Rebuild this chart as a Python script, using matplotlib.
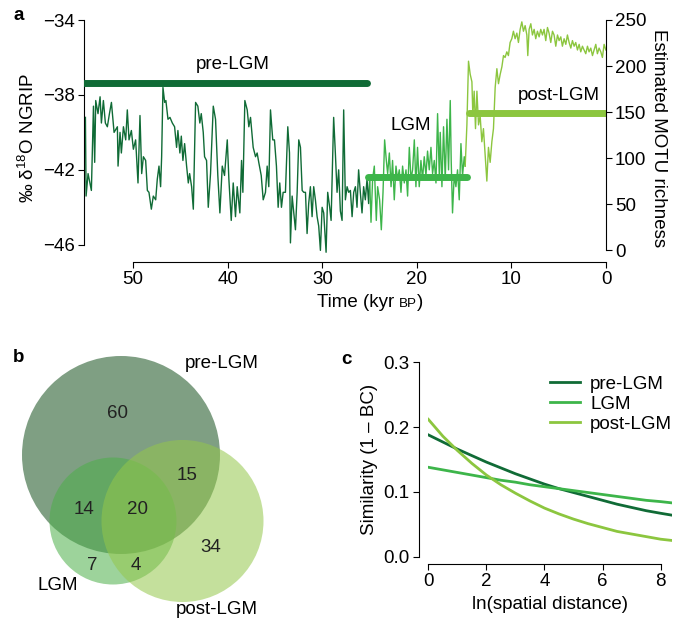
'''NGRIP oxygen isotope record, MOTU overlap and distance decay'''
import numpy as np
import matplotlib.pyplot as plt
from matplotlib.patches import Circle

plt.rcParams['font.family'] = ['Liberation Sans', 'DejaVu Sans']
plt.rcParams['mathtext.default'] = 'regular'
plt.rcParams['font.size'] = 13.5
plt.rcParams['axes.linewidth'] = 0.8

# Colours for the three periods.
cPre = '#106b36'
cLgm = '#3db54a'
cPost = '#8cc63f'

# 1. NGRIP d18O record (kyr BP, per mil), split by period.
preKyr = [55.05, 54.98, 54.77, 54.42, 54.20, 54.07, 53.96, 53.72, 53.50, 53.36,
          53.15, 52.94, 52.73, 52.51, 52.30, 52.02, 51.67, 51.60, 51.39, 51.25,
          51.03, 50.79, 50.62, 50.44, 50.19, 49.98, 49.74, 49.49, 49.28, 49.10,
          48.92, 48.68, 48.50, 48.33, 48.08, 47.87, 47.62, 47.45, 47.27, 47.10,
          46.99, 46.85, 46.67, 46.54, 46.32, 46.11, 45.86, 45.62, 45.41, 45.27,
          45.06, 44.91, 44.74, 44.56, 44.35, 44.17, 44.03, 43.82, 43.64, 43.40,
          43.16, 42.95, 42.80, 42.59, 42.45, 42.24, 42.06, 41.82, 41.53, 41.29,
          41.05, 40.83, 40.58, 40.34, 40.05, 39.88, 39.63, 39.42, 39.18, 39.00,
          38.72, 38.54, 38.40, 38.19, 37.94, 37.77, 37.59, 37.31, 37.06, 36.89,
          36.72, 36.46, 36.25, 36.01, 35.83, 35.66, 35.48, 35.24, 35.06, 34.85,
          34.67, 34.50, 34.32, 34.14, 33.90, 33.65, 33.47, 33.37, 33.19, 33.02,
          32.84, 32.66, 32.49, 32.31, 32.13, 31.96, 31.78, 31.61, 31.44, 31.26,
          31.08, 30.91, 30.73, 30.55, 30.38, 30.20, 30.02, 29.85, 29.60, 29.43,
          29.22, 29.07, 28.80, 28.62, 28.44, 28.27, 28.09, 27.91, 27.74, 27.56,
          27.38, 27.21, 27.03, 26.85, 26.68, 26.50, 26.33, 26.16, 25.98, 25.80,
          25.63, 25.45, 25.27, 25.10, 24.99]
preD18o = [-39.2, -43.4, -42.2, -43.1, -38.6, -41.6, -38.3, -39.0, -38.1, -39.5,
           -38.3, -39.5, -39.7, -39.0, -38.4, -40.0, -39.7, -41.8, -40.0, -41.1,
           -39.7, -40.4, -38.8, -40.4, -39.9, -40.9, -40.4, -42.7, -39.1, -42.2,
           -41.3, -41.5, -43.1, -43.2, -44.1, -43.4, -43.6, -42.5, -41.8, -42.9,
           -41.3, -37.6, -38.4, -38.3, -39.3, -39.2, -39.5, -39.7, -40.8, -39.9,
           -41.1, -40.2, -41.5, -40.6, -41.8, -42.7, -42.2, -42.9, -44.1, -38.4,
           -38.6, -39.5, -39.0, -40.0, -41.3, -41.5, -44.0, -42.2, -38.6, -39.3,
           -42.3, -44.3, -41.8, -42.3, -40.4, -42.5, -44.7, -42.7, -44.5, -42.9,
           -44.3, -41.5, -43.2, -38.3, -38.8, -39.7, -39.2, -40.8, -41.3, -41.1,
           -41.6, -42.3, -43.6, -43.2, -41.8, -42.9, -38.8, -40.4, -40.4, -41.8,
           -44.0, -42.7, -44.0, -43.2, -43.2, -39.7, -41.1, -45.9, -43.4, -44.3,
           -45.2, -43.2, -40.4, -40.8, -43.1, -43.2, -43.2, -45.4, -43.8, -42.9,
           -44.5, -42.9, -43.6, -44.5, -45.0, -46.3, -44.0, -44.3, -46.4, -43.2,
           -44.0, -44.7, -39.2, -41.1, -43.2, -42.0, -44.2, -44.7, -38.8, -43.6,
           -42.9, -43.2, -43.1, -44.5, -43.2, -42.9, -44.0, -42.0, -43.2, -44.3,
           -42.9, -43.6, -42.5, -43.8, -42.5]

lgmKyr = [24.85, 24.68, 24.50, 24.29, 24.15, 23.94, 23.76, 23.58, 23.41, 23.23,
          23.09, 22.91, 22.73, 22.57, 22.39, 22.21, 22.04, 21.86, 21.68, 21.51,
          21.33, 21.15, 20.98, 20.80, 20.62, 20.45, 20.27, 20.10, 19.93, 19.75,
          19.57, 19.40, 19.22, 19.04, 18.87, 18.69, 18.51, 18.34, 18.16, 17.98,
          17.81, 17.63, 17.53, 17.35, 17.18, 17.00, 16.82, 16.65, 16.47, 16.37,
          16.23, 16.05, 15.87, 15.70, 15.52, 15.34, 15.17, 14.99, 14.89]
lgmD18o = [-44.8, -42.5, -41.8, -44.7, -42.9, -43.6, -45.2, -43.2, -40.4, -41.5,
           -42.2, -41.1, -42.9, -41.5, -43.6, -41.8, -42.5, -42.0, -43.2, -41.8,
           -42.7, -42.0, -43.4, -40.8, -42.5, -42.0, -40.4, -42.9, -40.8, -42.9,
           -41.5, -42.5, -41.3, -42.3, -41.0, -42.0, -40.8, -42.2, -41.5, -42.7,
           -39.0, -42.3, -40.0, -42.9, -39.7, -42.5, -39.3, -42.0, -38.3, -41.5,
           -44.3, -42.3, -42.9, -42.0, -43.6, -40.6, -42.3, -41.3, -41.8]

postKyr = [14.71, 14.54, 14.36, 14.18, 14.08, 13.94, 13.80, 13.65, 13.48, 13.31,
           13.13, 12.96, 12.78, 12.60, 12.43, 12.25, 12.07, 11.90, 11.72, 11.54,
           11.37, 11.19, 11.01, 10.84, 10.67, 10.49, 10.32, 10.14, 9.96, 9.79,
           9.61, 9.43, 9.26, 9.08, 8.90, 8.73, 8.55, 8.37, 8.27, 8.13,
           7.95, 7.78, 7.60, 7.43, 7.25, 7.07, 6.90, 6.72, 6.55, 6.37,
           6.19, 6.02, 5.84, 5.66, 5.49, 5.31, 5.13, 4.96, 4.78, 4.61,
           4.43, 4.25, 4.08, 3.90, 3.72, 3.55, 3.37, 3.20, 3.02, 2.84,
           2.67, 2.49, 2.32, 2.14, 1.96, 1.79, 1.61, 1.43, 1.26, 1.08,
           0.91, 0.73, 0.55, 0.38, 0.20, 0.02]
postD18o = [-39.6, -36.2, -36.9, -37.3, -39.1, -37.8, -39.8, -37.8, -39.6, -39.1,
            -40.5, -39.8, -41.2, -42.6, -40.8, -41.6, -40.5, -39.8, -37.6, -36.6,
            -37.4, -36.9, -36.5, -35.9, -36.0, -35.7, -35.9, -35.2, -35.0, -34.6,
            -35.0, -34.7, -35.2, -34.5, -34.1, -34.6, -34.3, -34.8, -35.9, -34.5,
            -34.2, -34.8, -34.5, -35.0, -34.6, -34.9, -34.5, -34.8, -34.5, -35.1,
            -34.4, -34.7, -35.2, -34.6, -34.8, -35.4, -34.8, -35.1, -34.9, -35.4,
            -35.0, -35.3, -34.8, -35.2, -35.5, -35.1, -35.4, -35.2, -35.6, -35.3,
            -35.7, -35.4, -35.6, -35.8, -35.4, -35.7, -35.5, -35.9, -35.6, -35.3,
            -35.8, -35.5, -35.7, -36.0, -35.3, -35.6]

# Estimated MOTU richness per period (start kyr, end kyr, richness).
periodNames = ['pre-LGM', 'LGM', 'post-LGM']
periodStart = [55.2, 25.2, 14.5]
periodEnd = [25.3, 14.7, 0.0]
periodRichness = [182, 79, 149]

# 2. Venn counts of shared MOTUs.
vennCounts = [60, 15, 14, 20, 34, 7, 4]

# 3. Distance decay of similarity (1 - BC).
decayX = [0, 0.5, 1, 1.5, 2, 2.5, 3, 3.5, 4, 4.5, 5, 5.5, 6, 6.5, 7, 7.5, 8, 8.4]
decayPre = [0.188, 0.177, 0.166, 0.156, 0.146, 0.137, 0.128, 0.120, 0.112,
            0.105, 0.099, 0.093, 0.087, 0.081, 0.076, 0.071, 0.067, 0.064]
decayLgm = [0.138, 0.134, 0.130, 0.126, 0.122, 0.118, 0.115, 0.111, 0.108,
            0.105, 0.102, 0.099, 0.096, 0.093, 0.090, 0.087, 0.085, 0.083]
decayPost = [0.212, 0.186, 0.164, 0.144, 0.126, 0.111, 0.098, 0.086, 0.075,
             0.066, 0.058, 0.051, 0.045, 0.039, 0.035, 0.031, 0.027, 0.025]

W, H = 690, 619
fig = plt.figure(figsize=(W / 100, H / 100), dpi=100)


def fbox(x0, y0, x1, y1):
    # pixel box (top-left origin) -> figure fraction rect
    return [x0 / W, 1 - y1 / H, (x1 - x0) / W, (y1 - y0) / H]


# ---- panel a ----
ax = fig.add_axes(fbox(84, 20, 606, 256))
ax.plot(preKyr, preD18o, color=cPre, lw=1.0)
ax.plot([preKyr[-1]] + lgmKyr, [preD18o[-1]] + lgmD18o, color=cLgm, lw=1.0)
ax.plot([lgmKyr[-1]] + postKyr, [lgmD18o[-1]] + postD18o, color=cPost, lw=1.0)
ax.set_xlim(55.2, 0)
ax.set_ylim(-46.6, -34)
ax.set_yticks([-46, -42, -38, -34])
ax.set_xticks([50, 40, 30, 20, 10, 0])
ax.spines['top'].set_visible(False)
ax.spines['right'].set_visible(False)
ax.spines['left'].set_bounds(-46, -34)
ax.spines['bottom'].set_bounds(50, 0)
ax.spines['bottom'].set_position(('outward', 4.5))
ax.tick_params(length=4.5, width=0.8, pad=2)
ax.set_ylabel('‰ δ$^{18}$O NGRIP', labelpad=4)

ax2 = ax.twinx()
ax2.set_ylim(-6.5, 250)
ax2.set_yticks([0, 50, 100, 150, 200, 250])
for s in ['top', 'left', 'bottom']:
    ax2.spines[s].set_visible(False)
ax2.spines['right'].set_bounds(0, 250)
ax2.tick_params(length=4.5, width=0.8, pad=2)
ax2.set_ylabel('Estimated MOTU richness', rotation=270, labelpad=15)
barColors = [cPre, cLgm, cPost]
for i in range(len(periodNames)):
    ax2.plot([periodStart[i], periodEnd[i]], [periodRichness[i], periodRichness[i]],
             color=barColors[i], lw=5, solid_capstyle='round')
ax2.text(39.5, 202, periodNames[0], ha='center', va='center')
ax2.text(20.6, 135, periodNames[1], ha='center', va='center')
ax2.text(5.0, 168, periodNames[2], ha='center', va='center')

# x label with small caps "BP", centred under the axis
yLab = 1 - 307 / H
t1 = fig.text(0, yLab, 'Time (kyr ', va='baseline', ha='left')
t2 = fig.text(0, yLab, 'BP', va='baseline', ha='left', fontsize=9.7)
t3 = fig.text(0, yLab, ')', va='baseline', ha='left')
fig.canvas.draw()
w1 = t1.get_window_extent().width
w2 = t2.get_window_extent().width
w3 = t3.get_window_extent().width
x0 = 370 - (w1 + w2 + w3) / 2
t1.set_x(x0 / W)
t2.set_x((x0 + w1) / W)
t3.set_x((x0 + w1 + w2) / W)

# ---- panel b ----
axb = fig.add_axes(fbox(0, 330, 300, 619))
axb.set_xlim(0, 300)
axb.set_ylim(619, 330)
axb.axis('off')
axb.add_patch(Circle((121, 455), 99, facecolor=(22/255, 80/255, 30/255), alpha=0.55,
                     edgecolor='none'))
axb.add_patch(Circle((113, 521), 63.5, facecolor=(77/255, 175/255, 73/255), alpha=0.55,
                     edgecolor='none'))
axb.add_patch(Circle((182.5, 521), 81, facecolor=(148/255, 199/255, 75/255), alpha=0.55,
                     edgecolor='none'))
vennPos = [(117, 414), (187, 476), (84, 510), (138, 510), (211, 548), (92, 566), (136, 566)]
for n, (px, py) in zip(vennCounts, vennPos):
    axb.text(px, py, str(n), ha='center', va='center', color='#222222')
axb.text(222, 363, 'pre-LGM', ha='center', va='center')
axb.text(58, 586, 'LGM', ha='center', va='center')
axb.text(217, 609, 'post-LGM', ha='center', va='center')

# ---- panel c ----
axc = fig.add_axes(fbox(428.3, 362.3, 672.3, 556.7))
axc.plot(decayX, decayPre, color=cPre, lw=2, label='pre-LGM')
axc.plot(decayX, decayLgm, color=cLgm, lw=2, label='LGM')
axc.plot(decayX, decayPost, color=cPost, lw=2, label='post-LGM')
axc.set_xlim(0, 8.4)
axc.set_ylim(0, 0.3)
axc.set_xticks([0, 2, 4, 6, 8])
axc.set_yticks([0.0, 0.1, 0.2, 0.3])
axc.spines['top'].set_visible(False)
axc.spines['right'].set_visible(False)
axc.spines['left'].set_position(('outward', 7))
axc.spines['bottom'].set_position(('outward', 5.5))
axc.spines['left'].set_bounds(0, 0.3)
axc.spines['bottom'].set_bounds(0, 8)
axc.tick_params(length=4.5, width=0.8, pad=2)
axc.set_xlabel('ln(spatial distance)', labelpad=4)
axc.set_ylabel('Similarity (1 – BC)', labelpad=4)
axc.legend(loc='upper right', frameon=False, handlelength=1.6, handletextpad=0.55,
           labelspacing=0.15, borderaxespad=0.0, bbox_to_anchor=(1.03, 0.97))

# panel letters
fig.text(13 / W, 1 - 15 / H, 'a', fontweight='bold', va='center', ha='left')
fig.text(13 / W, 1 - 357 / H, 'b', fontweight='bold', va='center', ha='left')
fig.text(341 / W, 1 - 360 / H, 'c', fontweight='bold', va='center', ha='left')

fig.savefig('out.png', dpi=100)
